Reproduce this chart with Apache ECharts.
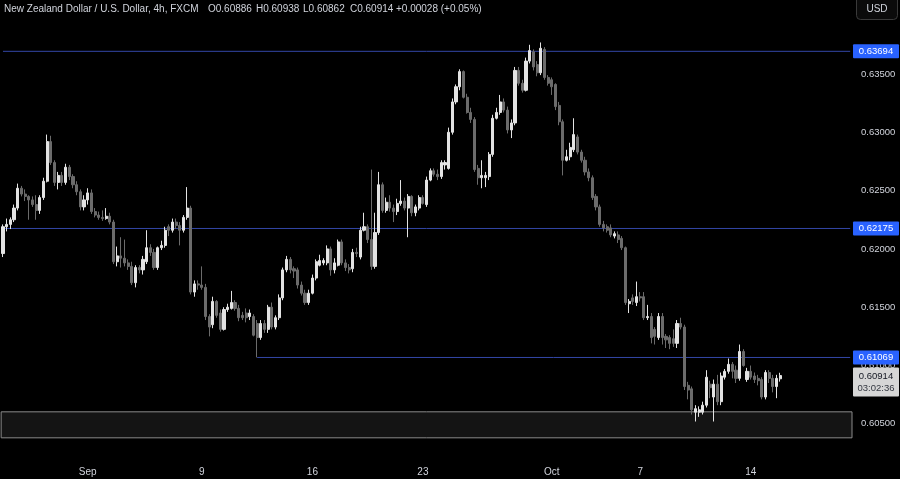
<!DOCTYPE html>
<html><head><meta charset="utf-8">
<script src="https://cdn.jsdelivr.net/npm/echarts@6/dist/echarts.min.js"></script>
<style>html,body{margin:0;padding:0;background:#000;}#c{width:900px;height:479px;}</style>
</head><body><div id="c"></div>
<script>
const opens = [0.6196,0.6219,0.6221,0.6225,0.6235,0.6252,0.6247,0.6245,0.6242,0.6238,0.6233,0.6244,0.6258,0.6292,0.6274,0.6257,0.6263,0.6257,0.6270,0.6262,
0.6255,0.6249,0.6236,0.6242,0.6248,0.6232,0.6229,0.6227,0.6226,0.6228,0.6223,0.6189,0.6194,0.6192,0.6188,0.6185,0.6171,0.6184,0.6182,0.6189,
0.6201,0.6197,0.6184,0.6201,0.6203,0.6219,0.6216,0.6223,0.6220,0.6216,0.6227,0.6235,0.6163,0.6170,0.6169,0.6167,0.6142,0.6135,0.6155,0.6145,
0.6131,0.6148,0.6149,0.6154,0.6149,0.6143,0.6145,0.6142,0.6142,0.6136,0.6124,0.6136,0.6131,0.6150,0.6133,0.6141,0.6158,0.6182,0.6191,0.6183,
0.6182,0.6169,0.6162,0.6154,0.6162,0.6175,0.6186,0.6188,0.6188,0.6200,0.6182,0.6186,0.6206,0.6188,0.6184,0.6183,0.6197,0.6193,0.6216,0.6219,
0.6208,0.6185,0.6214,0.6255,0.6233,0.6240,0.6235,0.6232,0.6239,0.6241,0.6235,0.6245,0.6231,0.6235,0.6244,0.6238,0.6259,0.6267,0.6264,0.6262,
0.6272,0.6269,0.6300,0.6326,0.6339,0.6352,0.6330,0.6317,0.6311,0.6269,0.6261,0.6261,0.6262,0.6281,0.6312,0.6317,0.6326,0.6319,0.6302,0.6308,
0.6353,0.6342,0.6336,0.6361,0.6369,0.6358,0.6351,0.6371,0.6347,0.6345,0.6341,0.6323,0.6309,0.6276,0.6279,0.6285,0.6296,0.6283,0.6276,0.6266,
0.6261,0.6245,0.6236,0.6221,0.6219,0.6218,0.6211,0.6212,0.6209,0.6201,0.6153,0.6158,0.6154,0.6159,0.6159,0.6141,0.6142,0.6131,0.6124,0.6142,
0.6125,0.6124,0.6123,0.6119,0.6136,0.6133,0.6083,0.6080,0.6060,0.6060,0.6060,0.6066,0.6084,0.6073,0.6084,0.6069,0.6090,0.6095,0.6101,0.6096,
0.6089,0.6112,0.6088,0.6095,0.6091,0.6089,0.6088,0.6073,0.6094,0.6089,0.6082,0.60886];
const closes = [0.6219,0.6221,0.6225,0.6235,0.6252,0.6247,0.6245,0.6242,0.6238,0.6233,0.6244,0.6258,0.6292,0.6274,0.6257,0.6263,0.6257,0.6270,0.6262,0.6255,
0.6249,0.6236,0.6242,0.6248,0.6232,0.6229,0.6227,0.6226,0.6228,0.6223,0.6189,0.6194,0.6192,0.6188,0.6185,0.6171,0.6184,0.6182,0.6191,0.6201,
0.6197,0.6184,0.6201,0.6203,0.6216,0.6216,0.6223,0.6220,0.6216,0.6227,0.6235,0.6163,0.6170,0.6169,0.6167,0.6142,0.6133,0.6155,0.6143,0.6131,
0.6148,0.6150,0.6154,0.6149,0.6141,0.6141,0.6141,0.6145,0.6126,0.6124,0.6136,0.6131,0.6150,0.6133,0.6141,0.6158,0.6182,0.6191,0.6182,0.6181,
0.6169,0.6162,0.6154,0.6162,0.6175,0.6189,0.6190,0.6190,0.6200,0.6182,0.6188,0.6206,0.6188,0.6184,0.6182,0.6197,0.6196,0.6216,0.6219,0.6208,
0.6185,0.6214,0.6255,0.6233,0.6240,0.6235,0.6232,0.6239,0.6241,0.6235,0.6245,0.6231,0.6236,0.6244,0.6239,0.6259,0.6267,0.6264,0.6262,0.6274,
0.6274,0.6300,0.6326,0.6339,0.6352,0.6330,0.6317,0.6311,0.6268,0.6261,0.6263,0.6263,0.6281,0.6312,0.6317,0.6326,0.6319,0.6302,0.6308,0.6353,
0.6342,0.6336,0.6361,0.6370,0.6356,0.6351,0.6372,0.6347,0.6342,0.6339,0.6322,0.6309,0.6276,0.6279,0.6287,0.6298,0.6283,0.6276,0.6266,0.6261,
0.6244,0.6236,0.6221,0.6218,0.6216,0.6212,0.6213,0.6208,0.6201,0.6154,0.6155,0.6155,0.6159,0.6158,0.6141,0.6142,0.6124,0.6125,0.6142,0.6124,
0.6122,0.6119,0.6119,0.6136,0.6133,0.6082,0.6079,0.6062,0.6063,0.6062,0.6066,0.6090,0.6081,0.6084,0.6069,0.6091,0.6095,0.6101,0.6095,0.6089,
0.6112,0.6100,0.6095,0.6090,0.6088,0.6087,0.6073,0.6094,0.6089,0.6082,0.6089,0.60914];
const lows = [0.6193,0.6215,0.6217,0.6223,0.6233,0.6245,0.6241,0.6225,0.6236,0.6225,0.6230,0.6242,0.6257,0.6272,0.6254,0.6251,0.6254,0.6255,0.6259,0.6252,
0.6246,0.6233,0.6233,0.6238,0.6230,0.6227,0.6225,0.6224,0.6225,0.6221,0.6187,0.6185,0.6184,0.6185,0.6182,0.6169,0.6167,0.6179,0.6178,0.6187,
0.6194,0.6182,0.6182,0.6199,0.6201,0.6211,0.6214,0.6217,0.6203,0.6214,0.6225,0.6161,0.6159,0.6165,0.6165,0.6139,0.6125,0.6132,0.6141,0.6129,
0.6130,0.6146,0.6148,0.6147,0.6138,0.6139,0.6137,0.6139,0.6125,0.6107,0.6122,0.6128,0.6128,0.6131,0.6131,0.6139,0.6156,0.6180,0.6179,0.6175,
0.6166,0.6160,0.6152,0.6152,0.6161,0.6173,0.6185,0.6186,0.6186,0.6177,0.6179,0.6185,0.6186,0.6181,0.6179,0.6180,0.6193,0.6191,0.6215,0.6205,
0.6182,0.6183,0.6212,0.6231,0.6231,0.6232,0.6223,0.6229,0.6237,0.6233,0.6210,0.6228,0.6228,0.6233,0.6238,0.6236,0.6258,0.6262,0.6259,0.6260,
0.6268,0.6268,0.6298,0.6324,0.6336,0.6329,0.6316,0.6308,0.6266,0.6255,0.6252,0.6253,0.6259,0.6279,0.6311,0.6315,0.6317,0.6299,0.6295,0.6306,
0.6340,0.6334,0.6335,0.6359,0.6353,0.6348,0.6349,0.6345,0.6340,0.6332,0.6319,0.6306,0.6263,0.6275,0.6276,0.6283,0.6281,0.6274,0.6263,0.6258,
0.6242,0.6233,0.6219,0.6215,0.6214,0.6210,0.6209,0.6205,0.6199,0.6152,0.6145,0.6152,0.6151,0.6155,0.6139,0.6139,0.6119,0.6118,0.6122,0.6118,
0.6115,0.6114,0.6116,0.6115,0.6131,0.6079,0.6071,0.6058,0.6052,0.6056,0.6058,0.6064,0.6072,0.6052,0.6066,0.6066,0.6088,0.6093,0.6089,0.6085,
0.6087,0.6099,0.6086,0.6088,0.6085,0.6083,0.6071,0.6071,0.6085,0.6077,0.6072,0.60862];
const highs = [0.6221,0.6226,0.6227,0.6238,0.6256,0.6254,0.6251,0.6246,0.6245,0.6246,0.6246,0.6261,0.6298,0.6297,0.6276,0.6266,0.6266,0.6273,0.6272,0.6264,
0.6258,0.6251,0.6246,0.6252,0.6251,0.6235,0.6232,0.6233,0.6235,0.6231,0.6225,0.6202,0.6210,0.6208,0.6191,0.6189,0.6186,0.6186,0.6194,0.6216,
0.6204,0.6200,0.6202,0.6207,0.6219,0.6221,0.6226,0.6226,0.6223,0.6229,0.6253,0.6237,0.6173,0.6173,0.6185,0.6170,0.6144,0.6159,0.6156,0.6148,
0.6150,0.6153,0.6164,0.6156,0.6152,0.6146,0.6149,0.6148,0.6144,0.6139,0.6139,0.6139,0.6152,0.6154,0.6143,0.6161,0.6184,0.6194,0.6193,0.6185,
0.6184,0.6172,0.6165,0.6165,0.6178,0.6191,0.6195,0.6192,0.6203,0.6202,0.6192,0.6208,0.6208,0.6191,0.6187,0.6200,0.6201,0.6219,0.6231,0.6221,
0.6268,0.6231,0.6266,0.6257,0.6244,0.6246,0.6238,0.6243,0.6259,0.6244,0.6247,0.6246,0.6238,0.6246,0.6246,0.6262,0.6269,0.6269,0.6268,0.6276,
0.6276,0.6304,0.6329,0.6341,0.6354,0.6353,0.6333,0.6321,0.6313,0.6272,0.6276,0.6266,0.6283,0.6315,0.6321,0.6332,0.6329,0.6322,0.6311,0.6356,
0.6356,0.6345,0.6364,0.6375,0.6371,0.6361,0.6377,0.6373,0.6349,0.6347,0.6342,0.6326,0.6311,0.6285,0.6291,0.6312,0.6298,0.6285,0.6279,0.6269,
0.6263,0.6247,0.6238,0.6224,0.6221,0.6221,0.6215,0.6215,0.6211,0.6202,0.6157,0.6161,0.6172,0.6163,0.6163,0.6152,0.6145,0.6133,0.6145,0.6145,
0.6127,0.6126,0.6131,0.6139,0.6141,0.6135,0.6086,0.6082,0.6066,0.6065,0.6069,0.6096,0.6087,0.6088,0.6092,0.6094,0.6097,0.6106,0.6103,0.6100,
0.6118,0.6114,0.6098,0.6100,0.6094,0.6092,0.6090,0.6096,0.6096,0.6092,0.6092,0.60938];

const barSlots = 231;                       // visible 4h slots incl. empty space on the right
const xTickLabels = [[23,'Sep'],[54,'9'],[84,'16'],[114,'23'],[149,'Oct'],[173,'7'],[203,'14']];
const yTickValues = [0.605,0.610,0.615,0.620,0.625,0.630,0.635];
const levelLines = [0.63694, 0.62175, 0.61069];
const levelStartBars = [0, 0, 69];
const zoneBounds = [0.6038, 0.60603];
const lastPrice = 0.60914;
const countdown = '03:02:36';
const headerParts = [['New Zealand Dollar / U.S. Dollar, 4h, FXCM',4],['O0.60886',208],['H0.60938',256],['L0.60862',303],['C0.60914',350],['+0.00028 (+0.05%)',396]];

const categories = Array.from({length: barSlots}, (_, i) => String(i));
const labelMap = {};
xTickLabels.forEach(([i, t]) => labelMap[i] = t);
const candles = opens.map((o, i) => [o, closes[i], lows[i], highs[i]]);

const FONT = 'Liberation Sans';
const TXT = '#d1d4dc';
const LEVEL_COLOR = '#3346a6';

const levelSeries = levelLines.map((v, k) => ({
  type: 'line', silent: true, symbol: 'none', z: 1,
  lineStyle: {color: LEVEL_COLOR, width: 1},
  data: [[levelStartBars[k], v], [barSlots - 1, v]]
}));

const chart = echarts.init(document.getElementById('c'), null, {renderer: 'canvas'});
chart.setOption({
  backgroundColor: '#000000',
  animation: false,
  textStyle: {fontFamily: FONT},
  grid: {left: 0, right: 48, top: 0, bottom: 26},
  xAxis: {
    type: 'category', data: categories, boundaryGap: true,
    axisLine: {show: false}, axisTick: {show: false}, splitLine: {show: false},
    axisLabel: {interval: 0, color: TXT, fontSize: 10, margin: 14, fontFamily: FONT,
      formatter: v => labelMap[+v] || ''}
  },
  yAxis: {
    type: 'value', position: 'right', min: 0.6025, max: 0.64134, interval: 0.0025,
    axisLine: {show: false}, axisTick: {show: false}, splitLine: {show: false},
    axisLabel: {color: TXT, fontSize: 9.5, margin: 9, fontFamily: FONT,
      formatter: v => yTickValues.some(t => Math.abs(t - v) < 1e-7) ? v.toFixed(5) : ''}
  },
  series: [{
    type: 'candlestick',
    data: candles,
    barWidth: 2.6, z: 3,
    itemStyle: {color: '#e3e3e3', color0: '#6b6b6b', borderColor: '#e3e3e3', borderColor0: '#6b6b6b', borderWidth: 1},
    markArea: {silent: true, precision: 6,
      itemStyle: {color: '#141414', borderColor: '#8a8a8a', borderWidth: 1},
      data: [[{yAxis: zoneBounds[1]}, {yAxis: zoneBounds[0]}]]}
  }].concat(levelSeries)
});

const py = v => chart.convertToPixel({yAxisIndex: 0}, v);
const g = [];
headerParts.forEach(([t, x]) => g.push({type: 'text', x: x, y: 9, z: 100,
  style: {text: t, fill: TXT, font: '10px ' + FONT, textVerticalAlign: 'middle'}}));
g.push({type: 'rect', z: 100, shape: {x: 856.5, y: -4.5, width: 41, height: 24, r: 4},
  style: {fill: '#0b0b0b', stroke: '#3a3a3a', lineWidth: 1}});
g.push({type: 'text', z: 101, x: 877, y: 9, style: {text: 'USD', fill: TXT, font: '10px ' + FONT, textAlign: 'center', textVerticalAlign: 'middle'}});
levelLines.forEach(v => {
  const y = py(v);
  g.push({type: 'rect', z: 100, shape: {x: 853, y: y - 7, width: 46, height: 14, r: 1}, style: {fill: '#2962ff'}});
  g.push({type: 'text', z: 101, x: 876, y: y, style: {text: v.toFixed(5), fill: '#ffffff', font: '9.5px ' + FONT, textAlign: 'center', textVerticalAlign: 'middle'}});
});
const ly = py(lastPrice);
g.push({type: 'rect', z: 100, shape: {x: 853, y: ly - 8, width: 46, height: 29, r: 1}, style: {fill: '#d6d6d6'}});
g.push({type: 'text', z: 101, x: 876, y: ly + 1, style: {text: lastPrice.toFixed(5), fill: '#131722', font: '9.5px ' + FONT, textAlign: 'center', textVerticalAlign: 'middle'}});
g.push({type: 'text', z: 101, x: 876, y: ly + 13, style: {text: countdown, fill: '#333740', font: '9.5px ' + FONT, textAlign: 'center', textVerticalAlign: 'middle'}});
chart.setOption({graphic: g});
</script></body></html>
